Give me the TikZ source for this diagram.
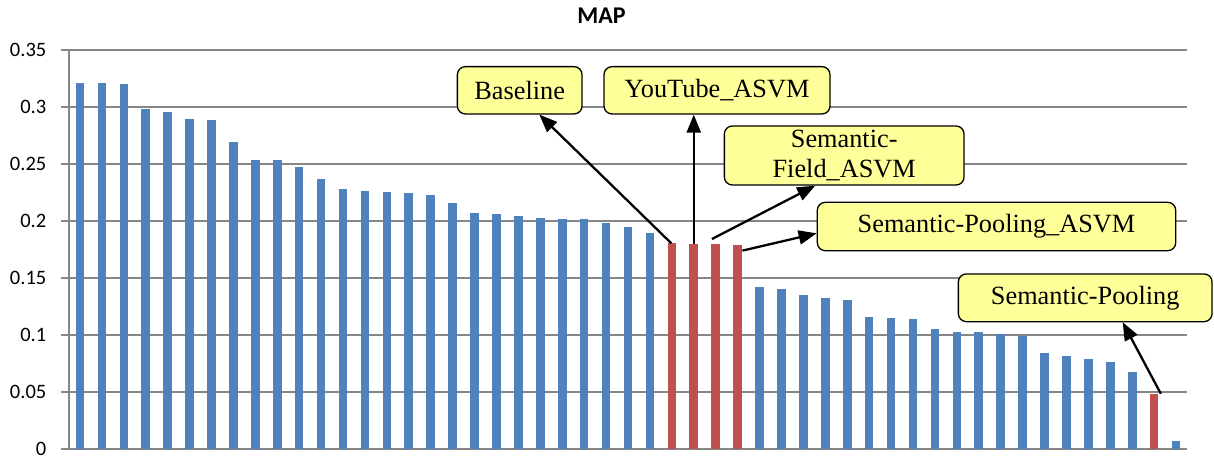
\documentclass[tikz,border=0pt]{standalone}
\usepackage{fontspec}
\setmainfont{Liberation Serif}
\newfontfamily\chartsans{Carlito}
\usetikzlibrary{arrows.meta}

\definecolor{barblue}{HTML}{4F81BD}
\definecolor{barred}{HTML}{C0504D}
\definecolor{gridgray}{HTML}{868686}
\definecolor{notefill}{HTML}{FFFF99}

\begin{document}
\begin{tikzpicture}[x=1pt,y=-1pt,
  callout/.style={draw=black, line width=1.3pt, fill=notefill,
    rounded corners=8pt, inner sep=0pt, align=center,
    font=\fontsize{26.3}{30.5}\selectfont},
  pointer/.style={draw=black, line width=2.3pt,
    -{Triangle[length=18pt,width=14pt]}},
  gridline/.style={gridgray, line width=1.4pt},
  ticklabel/.style={anchor=east, inner sep=0pt,
    font=\chartsans\fontsize{20.5}{20.5}\selectfont},
  bluebar/.style={fill=barblue},
  redbar/.style={fill=barred}]

\useasboundingbox (0,0) rectangle (1214,457);

% title
\node[font=\chartsans\bfseries\fontsize{24}{24}\selectfont] (title) at (601.5,15.8) {MAP};

% horizontal gridlines, tick marks and value labels
\foreach \k/\lab in {0/0,1/0.05,2/0.1,3/0.15,4/0.2,5/0.25,6/0.3,7/0.35}{
  \draw[gridline] (61,{449-57*\k}) -- (1187,{449-57*\k});
  \node[ticklabel] (y\k) at (46.5,{448.5-57*\k}) {\lab};
}
% vertical axis
\draw[gridline] (69,50) -- (69,449);

% bars: one slot of 1118/51 pt per value; red bars mark the highlighted runs
\foreach \v [count=\i] in {0.321,0.321,0.320,0.298,0.296,0.2895,0.2886,0.269,
    0.2532,0.2532,0.2477,0.2372,0.228,0.2263,0.2254,0.2245,0.2225,0.2158,
    0.2067,0.2058,0.2041,0.2024,0.2015,0.2015,0.198,0.1945,0.1892,
    0.1804,0.1798,0.1798,0.179,
    0.1418,0.1401,0.1348,0.1322,0.1304,0.1155,0.1146,0.1138,0.1053,0.1024,
    0.1024,0.1009,0.0988,0.0839,0.0813,0.0787,0.076,0.0673,0.0485,0.007}{
  \pgfmathsetmacro{\cx}{69+1118/51*(\i-0.5)}
  \pgfmathsetmacro{\top}{449-\v*1140}
  \ifnum\i>27 \ifnum\i<32 \def\barstyle{redbar}\else\def\barstyle{bluebar}\fi
  \else\def\barstyle{bluebar}\fi
  \ifnum\i=50 \def\barstyle{redbar}\fi
  \path[\barstyle] ({\cx-4.3},449) rectangle ({\cx+4.3},\top);
  \coordinate (t\i) at (\cx,\top);
}

% callout boxes
\node[callout, minimum width=124.7pt, minimum height=47.3pt] (base) at (519.7,90.3) {Baseline};
\node[callout, minimum width=226pt, minimum height=47.3pt] (yt) at (717,90.3) {YouTube\_ASVM};
\node[callout, minimum width=239.7pt, minimum height=59pt] (sf) at (844.2,155.5) {Semantic-\\Field\_ASVM};
\node[callout, minimum width=358.4pt, minimum height=48.4pt] (spa) at (996.5,226.5) {Semantic-Pooling\_ASVM};
\node[callout, minimum width=253.7pt, minimum height=47.7pt] (sp) at (1085.2,297.8) {Semantic-Pooling};

% pointer start points on the highlighted bars
\coordinate (p28) at ([xshift=-0.5pt]t28);
\coordinate (p29) at (t29);
\coordinate (p30) at ([xshift=-3.8pt,yshift=5pt]t30);
\coordinate (p31) at ([xshift=4.8pt,yshift=-5.7pt]t31);
\coordinate (p50) at ([xshift=6.7pt]t50);

% pointers
\draw[pointer] (p28) -- ([xshift=19.6pt]base.south);
\draw[pointer] (p29) -- (p29 |- yt.south);
\draw[pointer] (p30) -- ([xshift=-29pt]sf.south);
\draw[pointer] (p31) -- ([yshift=-6.8pt]spa.west);
\draw[pointer] (p50) -- ([xshift=37.5pt]sp.south);
\end{tikzpicture}
\end{document}
